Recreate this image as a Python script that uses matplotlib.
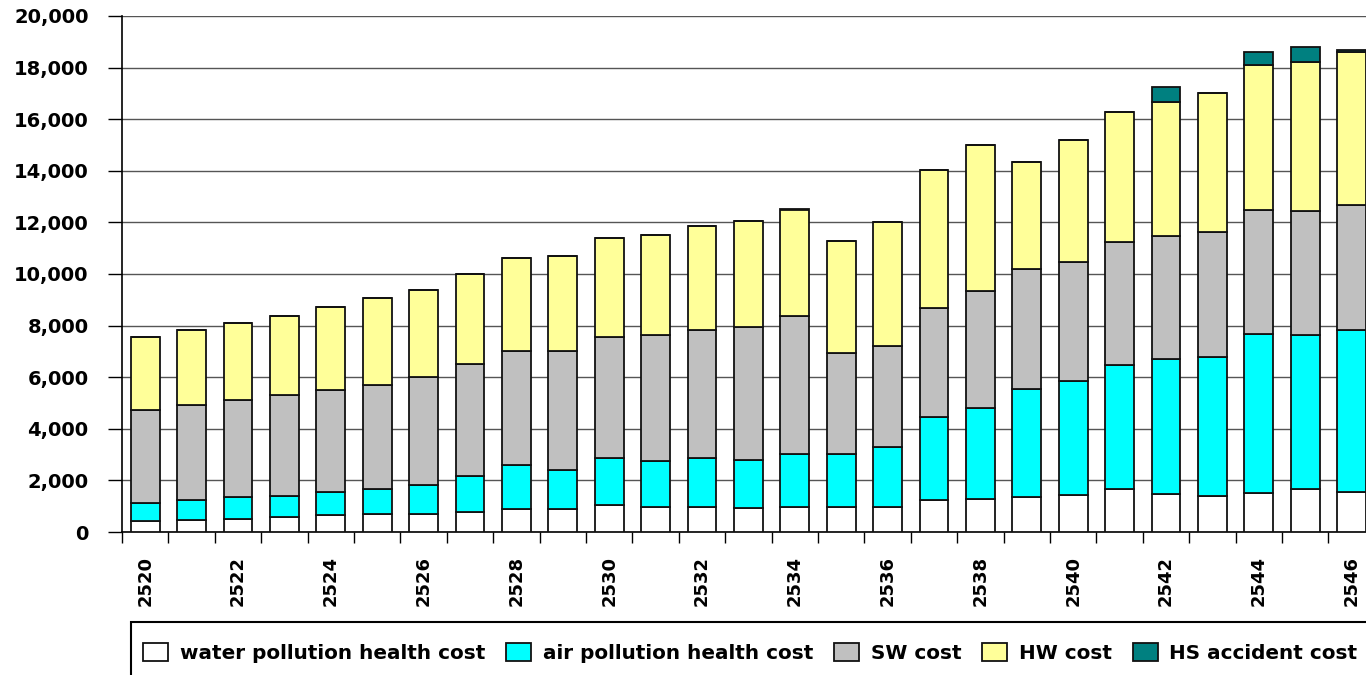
import matplotlib.pyplot as plt
import matplotlib.patches as mpatches
import numpy as np

# Buddhist-era years on the x axis
years = list(range(2520, 2547))

# stacked segments (cost units), bottom to top
water_health = [440, 450, 510, 580, 640, 680, 710, 790, 880, 880, 1030, 970, 970, 920,
                970, 970, 970, 1230, 1280, 1370, 1450, 1650, 1460, 1410, 1500, 1650, 1550]
air_health = [700, 780, 840, 830, 910, 980, 1120, 1390, 1700, 1530, 1820, 1790, 1880, 1880,
              2070, 2070, 2310, 3210, 3540, 4190, 4390, 4830, 5240, 5380, 6190, 5990, 6290]
sw_cost = [3580, 3690, 3770, 3890, 3960, 4050, 4160, 4330, 4440, 4610, 4690, 4880, 4970, 5130,
           5330, 3900, 3920, 4260, 4510, 4620, 4630, 4750, 4780, 4820, 4810, 4800, 4850]
hw_cost = [2830, 2900, 2980, 3090, 3230, 3360, 3400, 3480, 3590, 3680, 3840, 3870, 4030, 4110,
           4130, 4350, 4830, 5340, 5670, 4150, 4710, 5050, 5200, 5390, 5600, 5760, 5900]
hs_accident = [0, 0, 0, 0, 0, 0, 0, 0, 0, 0, 0, 0, 0, 0,
               0, 0, 0, 0, 0, 0, 0, 0, 550, 0, 510, 600, 100]

series = [
    ("water pollution health cost", water_health, "#FFFFFF"),
    ("air pollution health cost", air_health, "#00FFFF"),
    ("SW cost", sw_cost, "#C0C0C0"),
    ("HW cost", hw_cost, "#FFFF99"),
    ("HS accident cost", hs_accident, "#008080"),
]

plt.rcParams['font.family'] = ['DejaVu Sans']
plt.rcParams['font.weight'] = 'bold'

fig = plt.figure(figsize=(13.66, 6.75), dpi=100)
ax = fig.add_axes([122 / 1366, 143 / 675, 27 * 46.4 / 1366, 516 / 675])

x = np.arange(len(years))
bottom = np.zeros(len(years))
handles = []
for name, vals, col in series:
    vals = np.array(vals, dtype=float)
    ax.bar(x, vals, bottom=bottom, width=0.62, color=col, edgecolor="#111111",
           linewidth=1.3, zorder=3)
    bottom += vals
    handles.append(mpatches.Patch(facecolor=col, edgecolor="#111111", linewidth=1.3, label=name))

ax.set_xlim(-0.5, len(years) - 0.5)
ax.set_ylim(0, 20000)
ax.set_yticks(np.arange(0, 20001, 2000))
ax.set_yticklabels(["{:,}".format(v) for v in range(0, 20001, 2000)], fontsize=14, fontweight='bold')
ax.yaxis.grid(True, color="#555555", linewidth=1.0, zorder=0)
ax.set_axisbelow(True)

# labels on every other year, tick marks between categories
ax.set_xticks(x[::2])
ax.set_xticklabels([str(y) for y in years[::2]], rotation=90, fontsize=13, fontweight='bold')
ax.tick_params(axis='x', which='major', length=0, pad=17)
ax.set_xticks(np.arange(-0.5, len(years), 1.0), minor=True)
ax.tick_params(axis='x', which='minor', length=8, width=1.0, direction='out', color='black')
ax.tick_params(axis='y', length=10, width=1.0, direction='out', color='black', pad=14)

for side in ['top', 'right']:
    ax.spines[side].set_visible(False)
ax.spines['left'].set_color('black')
ax.spines['bottom'].set_color('black')
ax.spines['left'].set_linewidth(1.2)
ax.spines['bottom'].set_linewidth(1.2)

# legend box, cut off at the right and bottom like the original
fig.patches.append(mpatches.Rectangle((131 / 1366, -0.05), 1.0, (675 - 622) / 675 + 0.05,
                                      transform=fig.transFigure, facecolor='white',
                                      edgecolor='black', linewidth=1.5))
fig.legend(handles=handles, loc='lower left', bbox_to_anchor=(143 / 1366, 12 / 675), ncol=5,
           frameon=False, handlelength=1.25, handleheight=1.05,
           handletextpad=0.58, columnspacing=1.05, borderpad=0.0, borderaxespad=0.0,
           prop={'weight': 'bold', 'size': 14.4})

fig.savefig("out.png", dpi=100)
